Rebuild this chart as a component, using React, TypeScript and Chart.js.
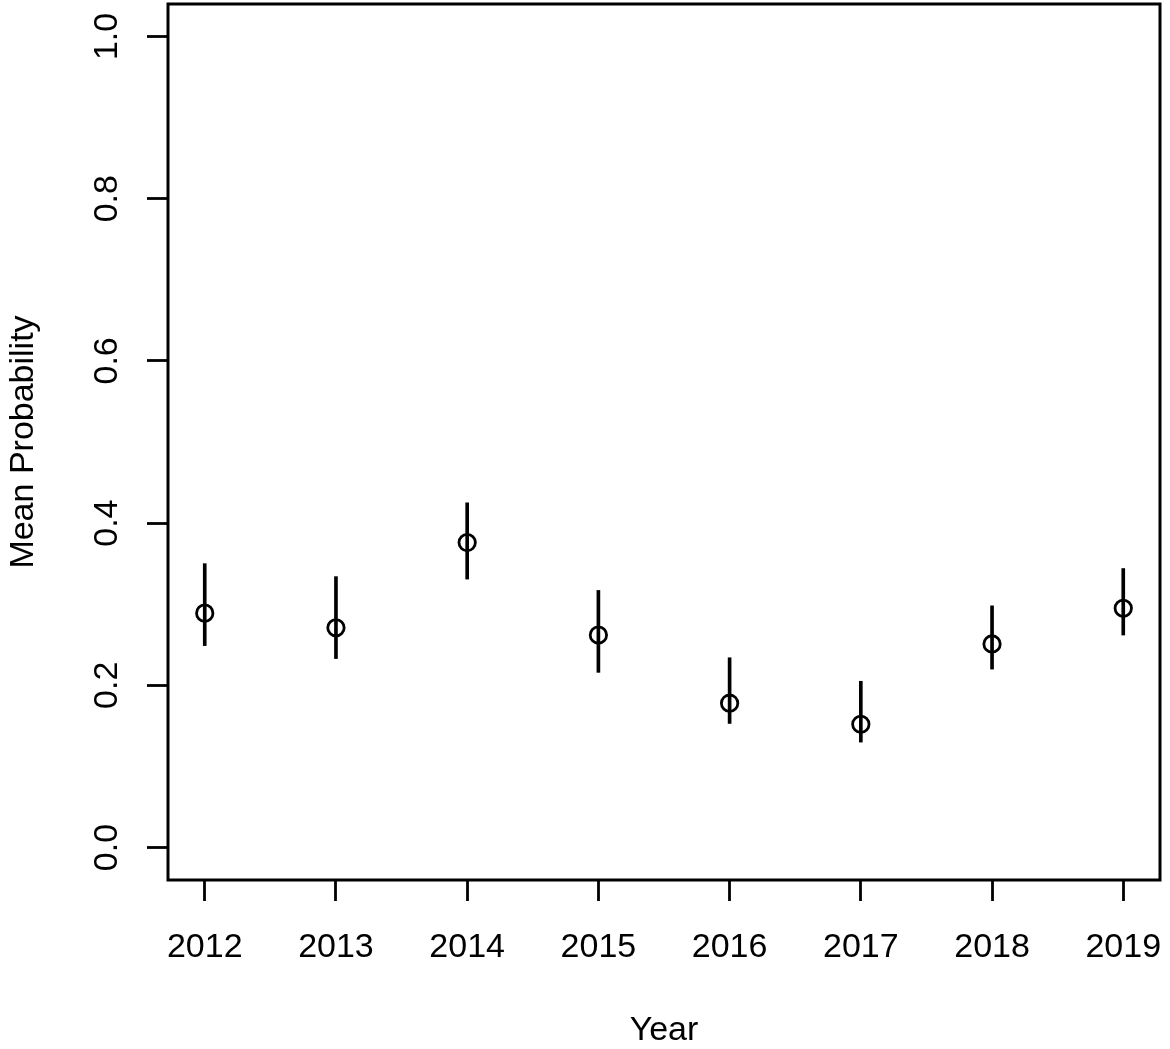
import React, { useEffect, useRef } from "react";
import { Chart, registerables } from "chart.js";

Chart.register(...registerables);

const years = [2012, 2013, 2014, 2015, 2016, 2017, 2018, 2019];
const meanProb = [0.289, 0.271, 0.376, 0.262, 0.178, 0.152, 0.251, 0.295];
const lowerCI = [0.249, 0.233, 0.331, 0.216, 0.153, 0.130, 0.220, 0.262];
const upperCI = [0.350, 0.334, 0.425, 0.317, 0.234, 0.205, 0.298, 0.344];
const yTicks = [0, 0.2, 0.4, 0.6, 0.8, 1.0];
const xTitle = "Year";
const yTitle = "Mean Probability";

const W = 1170;
const H = 1049;
const FONT = "34px 'Liberation Sans', Arial, sans-serif";

const textPlugin = {
  id: "rText",
  afterDraw(chart: any) {
    const { ctx, chartArea, scales } = chart;
    ctx.save();
    // box
    ctx.strokeStyle = "#000";
    ctx.lineWidth = 3;
    ctx.strokeRect(chartArea.left, chartArea.top, chartArea.right - chartArea.left, chartArea.bottom - chartArea.top);
    ctx.fillStyle = "#000";
    ctx.font = FONT;
    // x tick labels
    ctx.textAlign = "center";
    ctx.textBaseline = "alphabetic";
    scales.x.ticks.forEach((t: any) => {
      ctx.fillText(String(t.value), scales.x.getPixelForValue(t.value), chartArea.bottom + 77);
    });
    // x title
    ctx.fillText(xTitle, (chartArea.left + chartArea.right) / 2, chartArea.bottom + 160);
    // y tick labels rotated
    scales.y.ticks.forEach((t: any) => {
      const y = scales.y.getPixelForValue(t.value);
      ctx.save();
      ctx.translate(chartArea.left - 51, y);
      ctx.rotate(-Math.PI / 2);
      ctx.fillText(Number(t.value).toFixed(1), 0, 0);
      ctx.restore();
    });
    // y title
    ctx.save();
    ctx.translate(33, (chartArea.top + chartArea.bottom) / 2);
    ctx.rotate(-Math.PI / 2);
    ctx.fillText(yTitle, 0, 0);
    ctx.restore();
    ctx.restore();
  },
};

export default function App() {
  const ref = useRef<HTMLCanvasElement | null>(null);
  useEffect(() => {
    if (!ref.current) return;
    const chart = new Chart(ref.current, {
      type: "bar",
      data: {
        datasets: [
          {
            type: "line",
            label: "Mean",
            data: years.map((x, i) => ({ x, y: meanProb[i] })),
            showLine: false,
            pointRadius: 8.2,
            pointHoverRadius: 8.2,
            pointBorderWidth: 2.8,
            pointBorderColor: "#000",
            pointBackgroundColor: "rgba(0,0,0,0)",
            borderColor: "#000",
            order: 0,
          } as any,
          {
            type: "bar",
            label: "CI",
            data: years.map((x, i) => ({ x, y: [lowerCI[i], upperCI[i]] })),
            backgroundColor: "#000",
            borderWidth: 0,
            barThickness: 3,
            order: 1,
          } as any,
        ],
      },
      options: {
        responsive: false,
        animation: false,
        devicePixelRatio: 1,
        layout: { autoPadding: false, padding: { top: 4, right: 10, left: 0, bottom: 0 } },
        plugins: { legend: { display: false }, tooltip: { enabled: false }, title: { display: false } },
        scales: {
          x: {
            type: "linear",
            min: 2011.72,
            max: 2019.28,
            offset: false,
            afterBuildTicks: (s: any) => {
              s.ticks = years.map((v) => ({ value: v }));
            },
            afterFit: (s: any) => {
              s.height = 169;
            },
            ticks: { display: false },
            grid: {
              display: true,
              offset: false,
              drawOnChartArea: false,
              drawTicks: true,
              tickLength: 21,
              tickWidth: 2.8,
              tickColor: "#000",
            },
            border: { display: false },
          },
          y: {
            type: "linear",
            min: -0.04,
            max: 1.04,
            afterBuildTicks: (s: any) => {
              s.ticks = yTicks.map((v) => ({ value: v }));
            },
            afterFit: (s: any) => {
              s.width = 168;
            },
            ticks: { display: false },
            grid: {
              display: true,
              drawOnChartArea: false,
              drawTicks: true,
              tickLength: 21,
              tickWidth: 2.8,
              tickColor: "#000",
            },
            border: { display: false },
          },
        },
      },
      plugins: [textPlugin],
    } as any);
    return () => chart.destroy();
  }, []);
  return (
    <div style={{ position: "absolute", left: 0, top: 0, width: W, height: H, background: "#fff" }}>
      <canvas ref={ref} width={W} height={H} style={{ display: "block", width: W, height: H }} />
    </div>
  );
}
